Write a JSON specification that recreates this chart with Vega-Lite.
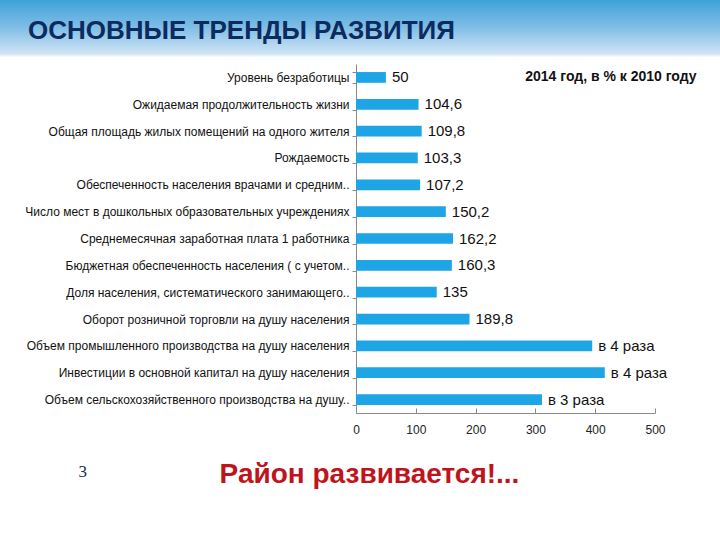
{
  "$schema": "https://vega.github.io/schema/vega-lite/v6.json",
  "width": 720,
  "height": 540,
  "autosize": {"type": "none"},
  "padding": 0,
  "background": "#ffffff",
  "view": {
    "stroke": null,
    "fill": {
      "gradient": "linear",
      "x1": 0, "y1": 0, "x2": 0, "y2": 1,
      "stops": [
        {"offset": 0, "color": "#3da3da"},
        {"offset": 0.05, "color": "#7fbde6"},
        {"offset": 0.1, "color": "#d0e5f5"},
        {"offset": 0.106, "color": "#ffffff"},
        {"offset": 1, "color": "#ffffff"}
      ]
    }
  },
  "config": {"font": "Liberation Sans"},
  "title": {
    "text": "ОСНОВНЫЕ ТРЕНДЫ РАЗВИТИЯ",
    "anchor": "start",
    "frame": "group",
    "orient": "top",
    "offset": -71,
    "dx": 28,
    "baseline": "alphabetic",
    "fontSize": 26,
    "fontWeight": "bold",
    "color": "#0c2b5e"
  },
  "data": {
    "values": [
      {"indicator": "Уровень безработицы", "value": 50, "label": "50"},
      {"indicator": "Ожидаемая продолжительность жизни", "value": 104.6, "label": "104,6"},
      {"indicator": "Общая площадь жилых помещений на одного жителя", "value": 109.8, "label": "109,8"},
      {"indicator": "Рождаемость", "value": 103.3, "label": "103,3"},
      {"indicator": "Обеспеченность населения врачами и средним..", "value": 107.2, "label": "107,2"},
      {"indicator": "Число мест в дошкольных образовательных учреждениях", "value": 150.2, "label": "150,2"},
      {"indicator": "Среднемесячная заработная плата 1 работника", "value": 162.2, "label": "162,2"},
      {"indicator": "Бюджетная обеспеченность населения ( с учетом..", "value": 160.3, "label": "160,3"},
      {"indicator": "Доля населения, систематического занимающего..", "value": 135, "label": "135"},
      {"indicator": "Оборот розничной торговли на душу населения", "value": 189.8, "label": "189,8"},
      {"indicator": "Объем промышленного производства на душу населения", "value": 395, "label": "в 4 раза"},
      {"indicator": "Инвестиции в основной капитал на душу населения", "value": 416, "label": "в 4 раза"},
      {"indicator": "Объем сельскохозяйственного производства на душу..", "value": 311, "label": "в 3 раза"}
    ]
  },
  "layer": [
    {
      "mark": {"type": "bar", "color": "#1ea5e6"},
      "encoding": {
        "x": {
          "field": "value",
          "type": "quantitative",
          "scale": {"domain": [0, 500], "range": [356, 655], "nice": false, "zero": true},
          "axis": {
            "values": [0, 100, 200, 300, 400, 500],
            "offset": -127,
            "domain": true,
            "domainColor": "#8a8a8a",
            "grid": false,
            "tickSize": -5,
            "tickColor": "#8a8a8a",
            "labelFontSize": 12,
            "labelColor": "#222222",
            "labelPadding": 16,
            "labelFlush": false,
            "labelOverlap": false,
            "title": "Район развивается!...",
            "titleFontSize": 28,
            "titleFontWeight": "bold",
            "titleColor": "#c0141c",
            "titleX": 369,
            "titleY": 69,
            "titleAlign": "center",
            "titleBaseline": "alphabetic"
          }
        },
        "y": {
          "field": "indicator",
          "type": "nominal",
          "sort": null,
          "scale": {"range": [64, 413], "paddingInner": 0.6, "paddingOuter": 0.3},
          "axis": {
            "orient": "left",
            "offset": -356,
            "domain": true,
            "domainColor": "#8a8a8a",
            "grid": false,
            "ticks": true,
            "tickBand": "extent",
            "tickSize": 4,
            "tickColor": "#8a8a8a",
            "labelFontSize": 12,
            "labelColor": "#111111",
            "labelLimit": 360,
            "labelPadding": 3,
            "title": "3",
            "titleAngle": 0,
            "titleX": -278,
            "titleY": 476,
            "titleAlign": "left",
            "titleBaseline": "alphabetic",
            "titleFont": "Liberation Serif",
            "titleFontSize": 17,
            "titleFontWeight": "normal",
            "titleColor": "#1a2a4a"
          }
        }
      }
    },
    {
      "mark": {"type": "text", "align": "left", "baseline": "middle", "dx": 6, "fontSize": 15, "color": "#111111"},
      "encoding": {
        "x": {"field": "value", "type": "quantitative"},
        "y": {"field": "indicator", "type": "nominal", "sort": null},
        "text": {"field": "label"}
      }
    },
    {
      "data": {"values": [{"note": "2014 год, в % к 2010 году"}]},
      "mark": {"type": "text", "align": "left", "baseline": "middle", "fontSize": 14, "fontWeight": "bold", "color": "#111111"},
      "encoding": {
        "x": {"datum": 283, "type": "quantitative"},
        "y": {"datum": "Уровень безработицы", "type": "nominal"},
        "text": {"field": "note"}
      }
    }
  ]
}
